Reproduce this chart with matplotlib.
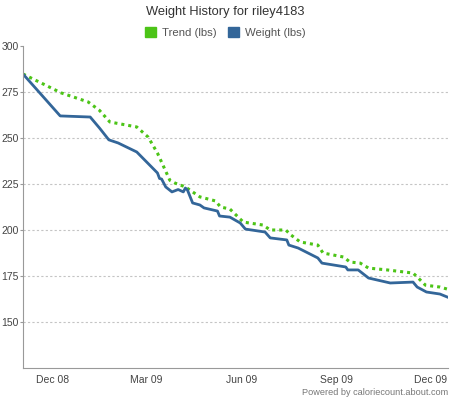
import matplotlib
matplotlib.use("Agg")
import matplotlib.pyplot as plt
import matplotlib.dates as mdates
from matplotlib.patches import Patch
import pandas as pd

plt.rcParams['font.family'] = ['Liberation Sans', 'DejaVu Sans']

# weight readings (lbs)
weight_dates = ['2008-11-02', '2008-12-08', '2009-01-06', '2009-01-15', '2009-01-24',
                '2009-02-02', '2009-02-20', '2009-03-12', '2009-03-14', '2009-03-16',
                '2009-03-20', '2009-03-26', '2009-04-01', '2009-04-06', '2009-04-08',
                '2009-04-10', '2009-04-15', '2009-04-22', '2009-04-26', '2009-05-09',
                '2009-05-11', '2009-05-21', '2009-05-31', '2009-06-05', '2009-06-24',
                '2009-06-29', '2009-07-15', '2009-07-17', '2009-07-26', '2009-08-14',
                '2009-08-18', '2009-09-10', '2009-09-12', '2009-09-22', '2009-10-02',
                '2009-10-23', '2009-11-14', '2009-11-18', '2009-11-27', '2009-12-10',
                '2009-12-17']
weight_lbs = [284.8, 262.0, 261.4, 255.4, 249.0,
              247.3, 242.4, 231.0, 228.0, 227.7,
              223.4, 220.7, 222.0, 220.7, 222.8,
              221.7, 214.7, 213.6, 212.0, 210.3,
              207.6, 207.0, 203.8, 200.5, 198.9,
              195.7, 194.6, 191.8, 190.2, 184.8,
              182.0, 179.9, 178.3, 178.3, 173.9,
              171.2, 171.7, 169.0, 166.3, 165.2,
              163.6]

# trend (lbs)
trend_dates = ['2008-11-02', '2008-12-09', '2009-01-04', '2009-01-15', '2009-01-25',
               '2009-02-20', '2009-03-03', '2009-03-12', '2009-03-24', '2009-03-29',
               '2009-04-08', '2009-04-22', '2009-05-07', '2009-05-12', '2009-05-21',
               '2009-06-03', '2009-06-22', '2009-06-29', '2009-07-14', '2009-07-19',
               '2009-07-28', '2009-08-14', '2009-08-19', '2009-09-08', '2009-09-14',
               '2009-09-24', '2009-10-02', '2009-10-20', '2009-11-14', '2009-11-18',
               '2009-11-26', '2009-12-10', '2009-12-17']
trend_lbs = [284.8, 274.5, 269.6, 265.0, 258.7,
             256.0, 250.5, 241.8, 227.0, 225.5,
             223.4, 218.0, 215.8, 212.5, 211.4,
             204.3, 202.7, 200.0, 200.0, 197.3,
             193.5, 191.8, 187.5, 185.3, 182.6,
             182.0, 179.3, 178.3, 176.6, 174.5,
             170.0, 169.0, 167.9]

x_ticks = ['2008-12-01', '2009-03-01', '2009-06-01', '2009-09-01', '2009-12-01']
y_ticks = [150, 175, 200, 225, 250, 275, 300]

green = '#4cc417'
blue = '#336699'

fig = plt.figure(figsize=(4.5, 4.0), dpi=100)
ax = fig.add_axes([0.051, 0.08, 0.945, 0.805])

ax.plot(pd.to_datetime(trend_dates), trend_lbs, color=green, lw=2.2,
        linestyle=(0, (1, 1.3)))
ax.plot(pd.to_datetime(weight_dates), weight_lbs, color=blue, lw=2)

ax.set_ylim(125, 300)
ax.set_xlim(pd.Timestamp('2008-11-02'), pd.Timestamp('2009-12-18'))
ax.set_yticks(y_ticks)
ax.set_xticks(pd.to_datetime(x_ticks))
ax.xaxis.set_major_formatter(mdates.DateFormatter('%b %y'))

ax.yaxis.grid(True, color='#c4c4c4', linestyle=(0, (2, 2)), lw=0.8)
ax.get_ygridlines()[-1].set_visible(False)
ax.set_axisbelow(True)

for s in ['top', 'right']:
    ax.spines[s].set_visible(False)
for s in ['left', 'bottom']:
    ax.spines[s].set_color('#999999')
ax.tick_params(axis='y', colors='#999999', labelcolor='#444444', length=2.5,
               labelsize=7.5, pad=0.5)
ax.tick_params(axis='x', length=0, labelcolor='#444444', labelsize=7.5, pad=5)

fig.text(0.5, 0.97, 'Weight History for riley4183', ha='center', va='center',
         fontsize=9.3, color='#333333')
handles = [Patch(color=green, label='Trend (lbs)'), Patch(color=blue, label='Weight (lbs)')]
fig.legend(handles=handles, loc='center', bbox_to_anchor=(0.5, 0.918), ncol=2,
           frameon=False, fontsize=8.2, handlelength=1.0, handleheight=1.0,
           handletextpad=0.5, columnspacing=1.0, labelcolor='#555555')

fig.text(0.995, 0.018, 'Powered by caloriecount.about.com', ha='right', va='center',
         fontsize=6.6, color='#777777')

fig.savefig('out.png', dpi=100)
